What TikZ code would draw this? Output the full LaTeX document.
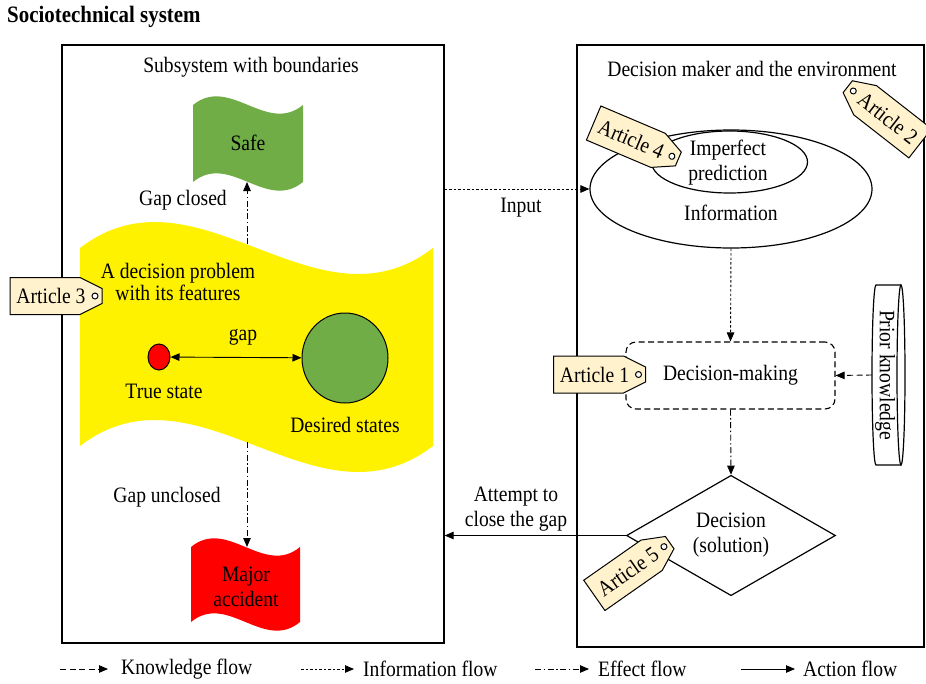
\documentclass[tikz,border=0pt]{standalone}
\usepackage{fontspec}
\setmainfont{Liberation Serif}[FakeStretch=0.89]
\usetikzlibrary{shapes.geometric,arrows.meta}

\definecolor{safegreen}{HTML}{70AD47}
\definecolor{tagfill}{HTML}{FFF2CC}

\tikzset{
  frame/.style={draw, line width=1.3pt, inner sep=0},
  flowtip/.style={-{Triangle[length=9pt,width=7.5pt]}},
  knowflow/.style={flowtip, line width=0.9pt, dash pattern=on 6pt off 3.5pt},
  infoflow/.style={flowtip, line width=0.9pt, dash pattern=on 2.5pt off 2pt},
  effectflow/.style={flowtip, line width=0.9pt, dash pattern=on 6pt off 2.5pt on 1.5pt off 2.5pt},
  actflow/.style={flowtip, line width=0.9pt},
  legendtext/.style={anchor=west, inner sep=0},
  % label tag, pointed end on the right
  arttag/.pic={
    \draw[line width=1pt, fill=tagfill] (-46,-18.5) -- (24,-18.5) -- (46,-7.5)
      -- (46,7.5) -- (24,18.5) -- (-46,18.5) -- cycle;
    \draw[line width=1pt, fill=white] (39,0) circle[radius=3];
    \node[transform shape] (-label) at (-5,0) {#1};
  },
  % label tag, pointed end on the left
  arttagl/.pic={
    \draw[line width=1pt, fill=tagfill] (46,-18.5) -- (-24,-18.5) -- (-46,-7.5)
      -- (-46,7.5) -- (-24,18.5) -- (46,18.5) -- cycle;
    \draw[line width=1pt, fill=white] (-39,0) circle[radius=3];
    \node[transform shape] (-label) at (5,0) {#1};
  },
}

\begin{document}
\begin{tikzpicture}[x=1pt, y=-1pt, font=\fontsize{22}{25}\selectfont]
\useasboundingbox (0,0) rectangle (926,683);

% title
\node[anchor=west, inner sep=0, font=\fontsize{23.5}{25}\selectfont\bfseries] (title) at (7,17) {Sociotechnical system};

% the two frames
\node[frame, minimum width=382, minimum height=598] (lbox) at (253,344) {};
\node[frame, minimum width=347, minimum height=602] (rbox) at (750.5,346) {};
\node (ltitle) at (251,67) {Subsystem with boundaries};
\node (rtitle) at (752,69) {Decision maker and the environment};

% ---------- subsystem ----------
% decision problem (wave)
\fill[yellow] (80,248) .. controls (197.7,158) and (315.3,338) .. (433,248)
  -- (433,446) .. controls (315.3,536) and (197.7,356) .. (80,446) -- cycle;
\node[align=center, font=\fontsize{22}{19}\selectfont] (problem) at (178,282) {A decision problem\\with its features};

% outcome flags
\fill[safegreen] (193,105) .. controls (229.7,75) and (266.3,135) .. (303,105)
  -- (303,182) .. controls (266.3,212) and (229.7,152) .. (193,182) -- cycle;
\node (safe) at (248,143) {Safe};
\fill[red] (191,547) .. controls (227.3,517) and (263.7,577) .. (300,547)
  -- (300,622) .. controls (263.7,652) and (227.3,592) .. (191,622) -- cycle;
\node[align=center] (major) at (246,587) {Major\\accident};

\coordinate (safebot) at (247,182);
\coordinate (ytop) at (247,244);
\coordinate (ybot) at (247,442);
\coordinate (majtop) at (247,547);
\draw[effectflow] (ytop) -- (safebot);
\draw[effectflow] (ybot) -- (majtop);
\node (gclosed) at (183,200) {Gap closed};
\node (gunclosed) at (167,497) {Gap unclosed};

% states and the gap
\node[ellipse, draw, fill=red, line width=1pt, minimum width=22, minimum height=26, inner sep=0] (truest) at (159,357) {};
\node[ellipse, draw, fill=safegreen, line width=1pt, minimum width=86, minimum height=90, inner sep=0] (desired) at (345,358) {};
\draw[line width=0.9pt, {Triangle[length=9pt,width=7.5pt]}-{Triangle[length=9pt,width=7.5pt]}] (truest) -- (desired);
\node (gaplbl) at (243,337) {gap};
\node (truelbl) at (164,391) {True state};
\node (deslbl) at (345,425) {Desired states};

% ---------- decision maker ----------
\node[ellipse, draw, line width=1.2pt, minimum width=282, minimum height=118, inner sep=0] (info) at (731,189) {};
\node[ellipse, draw, line width=1.2pt, minimum width=156, minimum height=62, inner sep=0] (pred) at (729.5,162) {};
\node[align=center] (predtext) at (728,162.5) {Imperfect\\prediction};
\node (infotext) at (731,213) {Information};

\draw[infoflow] (info.west -| lbox.east) -- (info.west);
\node (inputlbl) at (521,208) {Input};

\node[draw, line width=1.1pt, dash pattern=on 6pt off 3.5pt, rounded corners=10, minimum width=209, minimum height=67] (dm) at (730.5,375.5) {Decision-making};
\draw[infoflow] (info.south) -- (dm.north);

% prior knowledge store
\draw[line width=1.2pt] (901,285) -- (876,285) arc[start angle=270, end angle=90, x radius=4, y radius=90] -- (901,465);
\draw[line width=1.2pt] (901,375) ellipse[x radius=4, y radius=90];
\node[rotate=-90] (prior) at (885,375) {Prior knowledge};
\coordinate (priorL) at (872,375);
\draw[knowflow] (priorL) -- (dm.east);

% decision
\node[diamond, draw, line width=1.2pt, minimum width=209, minimum height=107, inner sep=0, align=center] (dec) at (731,535.5) {Decision\\(solution)};
\draw[effectflow] (dm.south) -- (dec.north);
\draw[actflow] (dec.west) -- (dec.west -| lbox.east);
\node[align=center] (attempt) at (516,509.5) {Attempt to\\close the gap};

% ---------- article tags ----------
\pic (a3) at (56,296) {arttag=Article 3};
\pic (a1) at (599.5,374.5) {arttag=Article 1};
\pic[rotate=-23] (a4) at (636,141) {arttag=Article 4};
\pic[rotate=35] (a5) at (632,569) {arttag=Article 5};
\pic[rotate=-38] (a2) at (884,115) {arttagl=Article 2};

% ---------- legend ----------
\coordinate (kA) at (60,669);  \coordinate (kB) at (108,669);
\draw[knowflow] (kA) -- (kB);
\node[legendtext] (kT) at (121,669) {Knowledge flow};
\coordinate (iA) at (301,669); \coordinate (iB) at (354,669);
\draw[infoflow] (iA) -- (iB);
\node[legendtext] (iT) at (363,669) {Information flow};
\coordinate (eA) at (535,669); \coordinate (eB) at (589,669);
\draw[effectflow] (eA) -- (eB);
\node[legendtext] (eT) at (598,669) {Effect flow};
\coordinate (cA) at (741,669); \coordinate (cB) at (795,669);
\draw[actflow] (cA) -- (cB);
\node[legendtext] (cT) at (803,669) {Action flow};
\end{tikzpicture}
\end{document}
